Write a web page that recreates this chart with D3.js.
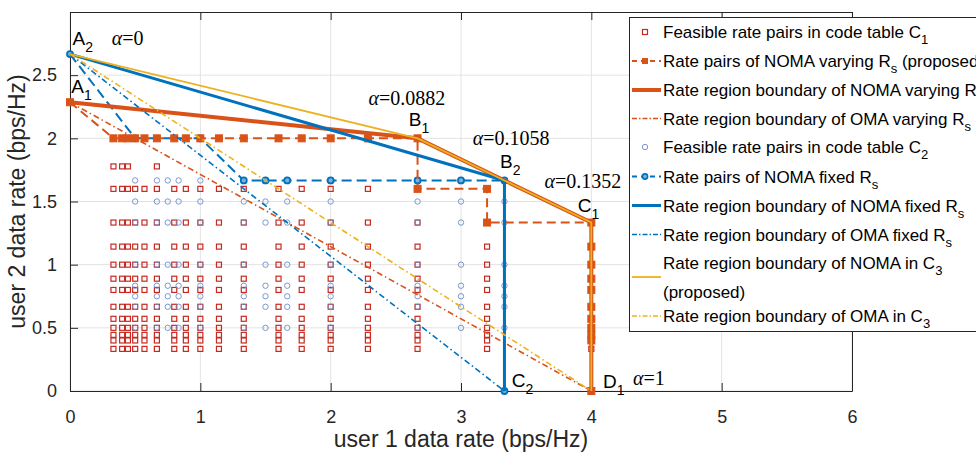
<!DOCTYPE html>
<html>
<head>
<meta charset="utf-8">
<script src="https://cdn.jsdelivr.net/npm/d3@7"></script>
<style>
body{margin:0;background:#fff}
svg{display:block}
text{font-family:"Liberation Sans",Arial,Helvetica,sans-serif}
</style>
</head>
<body>
<svg id="chart" width="976" height="455"></svg>
<script>
// tick labels
var xTicks = [0, 1, 2, 3, 4, 5, 6];
var yTicks = [0, 0.5, 1, 1.5, 2, 2.5];

// code table C1 : feasible rate pairs, row by row (user 2 rate, user 1 rates)
var c1Cols = [1/3, 0.4, 4/9, 0.5, 4/7, 2/3, 0.8, 8/9, 1, 8/7, 4/3, 1.6, 16/9, 2, 16/7, 8/3, 3.2, 4];
var c1Rows = [
  [16/9, [1/3, 0.4, 4/9, 2/3]],
  [1.6,  [1/3, 0.4, 4/9, 0.5, 4/7, 2/3, 0.8, 8/9, 1, 8/7, 4/3, 1.6, 16/9, 2, 16/7, 8/3, 3.2]],
  [4/3,  c1Cols],
  [8/7,  c1Cols],
  [1,    c1Cols],
  [8/9,  c1Cols],
  [0.8,  c1Cols],
  [2/3,  c1Cols],
  [4/7,  c1Cols],
  [0.5,  c1Cols],
  [4/9,  c1Cols],
  [0.4,  c1Cols],
  [1/3,  c1Cols]
];

// code table C2 : feasible rate pairs
var c2Cols = [0.5, 2/3, 0.75, 5/6, 1, 4/3, 1.5, 5/3, 2, 8/3, 3, 10/3];
var c2Rows = [5/3, 1.5, 4/3, 1, 5/6, 0.75, 2/3, 0.5];

// rate pairs of NOMA, varying Rs (proposed)
var nomaVarR1 = [0, 1/3, 0.4, 4/9, 0.5, 4/7, 2/3, 0.8, 8/9, 1, 8/7, 4/3, 1.6, 16/9, 2, 16/7, 8/3, 8/3, 3.2, 3.2, 4, 4, 4, 4, 4, 4, 4, 4, 4, 4, 4];
var nomaVarR2 = [16/7, 2, 2, 2, 2, 2, 2, 2, 2, 2, 2, 2, 2, 2, 2, 2, 2, 1.6, 1.6, 4/3, 4/3, 8/7, 1, 8/9, 0.8, 2/3, 4/7, 0.5, 4/9, 0.4, 0];

// rate pairs of NOMA, fixed Rs
var nomaFixR1 = [0, 0.5, 1, 4/3, 1.5, 5/3, 2, 8/3, 3, 10/3, 10/3];
var nomaFixR2 = [8/3, 2, 2, 5/3, 5/3, 5/3, 5/3, 5/3, 5/3, 5/3, 0];

// rate region boundaries
var bndVarR1 = [0, 8/3, 4, 4],        bndVarR2 = [16/7, 2, 4/3, 0];
var omaVarR1 = [0, 4],                omaVarR2 = [16/7, 0];
var bndFixR1 = [0, 10/3, 10/3],       bndFixR2 = [8/3, 5/3, 0];
var omaFixR1 = [0, 10/3],             omaFixR2 = [8/3, 0];
var bndC3R1  = [0, 8/3, 10/3, 4, 4],  bndC3R2  = [8/3, 2, 5/3, 4/3, 0];
var omaC3R1  = [0, 4],                omaC3R2  = [8/3, 0];

// annotations: text, x, y (data units)
var pointLabels = [
  ["A_2", 0.02, 2.74], ["A_1", 0.01, 2.36], ["B_1", 2.6, 2.1], ["B_2", 3.3, 1.765],
  ["C_1", 3.895, 1.42], ["C_2", 3.39, 0.035], ["D_1", 4.09, 0.02]
];
var alphaLabels = [
  ["0", 0.32, 2.74], ["0.0882", 2.29, 2.26], ["0.1058", 3.09, 1.95], ["0.1352", 3.64, 1.61], ["1", 4.32, 0.05]
];

var legendLabels = [
  "Feasible rate pairs in code table C_1",
  "Rate pairs of NOMA varying R_s (proposed)",
  "Rate region boundary of NOMA varying R_s",
  "Rate region boundary of OMA varying R_s",
  "Feasible rate pairs in code table C_2",
  "Rate pairs of NOMA fixed R_s",
  "Rate region boundary of NOMA fixed R_s",
  "Rate region boundary of OMA fixed R_s",
  "Rate region boundary of NOMA in C_3|(proposed)",
  "Rate region boundary of OMA in C_3"
];

var RED = "#D95319", BLUE = "#0072BD", YEL = "#EDB120", SQ = "#c8281e", CI = "#6a8cca", AX = "#262626";

var svg = d3.select("#chart"),
    W = 976, H = 455,
    margin = {top: 12, right: 124, bottom: 64, left: 70},
    x = d3.scaleLinear().domain([0, 6]).range([margin.left, W - margin.right]),
    y = d3.scaleLinear().domain([0, 3]).range([H - margin.bottom, margin.top]);

function zip(a, b) { return a.map((v, i) => [v, b[i]]); }

// text with _x subscripts
function rich(t, str, subSize, subDy) {
  var parts = str.split(/_(\w)/), down = false;
  parts.forEach(function(p, i) {
    if (i % 2 == 1) {
      t.append("tspan").attr("dy", subDy).attr("font-size", subSize).text(p);
      down = true;
    } else if (p) {
      t.append("tspan").attr("dy", down ? -subDy : 0).text(p);
      down = false;
    }
  });
}

// grid
var grid = svg.append("g").attr("stroke", "#e3e3e3").attr("stroke-width", 1);
grid.selectAll(".gx").data(xTicks).enter().append("line")
  .attr("x1", d => x(d)).attr("x2", d => x(d)).attr("y1", y(0)).attr("y2", y(3));
grid.selectAll(".gy").data(yTicks).enter().append("line")
  .attr("y1", d => y(d)).attr("y2", d => y(d)).attr("x1", x(0)).attr("x2", x(6));

// axes
function styleAxis(g) {
  g.selectAll("path,line").attr("stroke", AX);
  g.selectAll("text").attr("fill", AX).attr("font-size", 18).attr("font-family", '"Liberation Sans",Arial,sans-serif');
}
svg.append("g").attr("transform", `translate(0,${y(0)})`)
  .call(d3.axisBottom(x).tickValues(xTicks).tickSize(-8).tickSizeOuter(0).tickPadding(19).tickFormat(d3.format("d")))
  .call(styleAxis);
svg.append("g").attr("transform", `translate(0,${y(3)})`)
  .call(d3.axisTop(x).tickValues(xTicks).tickSize(-8).tickSizeOuter(0).tickFormat(""))
  .call(styleAxis);
svg.append("g").attr("transform", `translate(${x(0)},0)`)
  .call(d3.axisLeft(y).tickValues(yTicks).tickSize(-8).tickSizeOuter(0).tickPadding(13).tickFormat(d => d === 0 ? "0" : d3.format(".1~f")(d)))
  .call(styleAxis);
svg.append("g").attr("transform", `translate(${x(6)},0)`)
  .call(d3.axisRight(y).tickValues(yTicks.concat([3])).tickSize(-8).tickSizeOuter(0).tickFormat(""))
  .call(styleAxis);

// feasible pairs C1
var c1Pts = [];
c1Rows.forEach(r => r[1].forEach(v => c1Pts.push([v, r[0]])));
svg.append("g").selectAll("rect").data(c1Pts).enter().append("rect")
  .attr("x", d => x(d[0]) - 2.5).attr("y", d => y(d[1]) - 2.5)
  .attr("width", 5).attr("height", 5)
  .attr("fill", "none").attr("stroke", SQ).attr("stroke-width", 1.2);

// feasible pairs C2
var c2Pts = [];
c2Rows.forEach(r => c2Cols.forEach(v => c2Pts.push([v, r])));
svg.append("g").selectAll("circle").data(c2Pts).enter().append("circle")
  .attr("cx", d => x(d[0])).attr("cy", d => y(d[1])).attr("r", 2.7)
  .attr("fill", "none").attr("stroke", CI).attr("stroke-width", 0.9);

var line = d3.line().x(d => x(d[0])).y(d => y(d[1]));

function path(pts, color, w, dash) {
  svg.append("path").datum(pts).attr("d", line)
    .attr("fill", "none").attr("stroke", color).attr("stroke-width", w)
    .attr("stroke-dasharray", dash || null).attr("stroke-linejoin", "round");
}

// NOMA fixed Rs pairs
var fixPts = zip(nomaFixR1, nomaFixR2);
path(fixPts, BLUE, 2, "10,5");
svg.append("g").selectAll("circle").data(fixPts).enter().append("circle")
  .attr("cx", d => x(d[0])).attr("cy", d => y(d[1])).attr("r", 3)
  .attr("fill", "#7fb0dc").attr("stroke", BLUE).attr("stroke-width", 1.8);

// NOMA varying Rs pairs
var varPts = zip(nomaVarR1, nomaVarR2);
path(varPts, RED, 2, "9,5");
svg.append("g").selectAll("rect").data(varPts).enter().append("rect")
  .attr("x", d => x(d[0]) - 3.5).attr("y", d => y(d[1]) - 3.5)
  .attr("width", 7).attr("height", 7)
  .attr("fill", RED).attr("stroke", RED).attr("stroke-width", 1);

// boundaries
path(zip(bndVarR1, bndVarR2), RED, 4);
path(zip(omaVarR1, omaVarR2), RED, 1.6, "6,3,1.5,3");
path(zip(bndFixR1, bndFixR2), BLUE, 3);
path(zip(omaFixR1, omaFixR2), BLUE, 1.6, "6,3,1.5,3");
path(zip(bndC3R1, bndC3R2), YEL, 1.8);
path(zip(omaC3R1, omaC3R2), YEL, 1.6, "6,3,1.5,3");

// axis titles
svg.append("text").attr("x", (x(0) + x(6)) / 2).attr("y", 447)
  .attr("text-anchor", "middle").attr("font-size", 23).attr("fill", AX)
  .text("user 1 data rate (bps/Hz)");
svg.append("text").attr("transform", `translate(25,${(y(0) + y(3)) / 2}) rotate(-90)`)
  .attr("text-anchor", "middle").attr("font-size", 23).attr("fill", AX)
  .text("user 2 data rate (bps/Hz)");

// point labels
pointLabels.forEach(function(p) {
  var t = svg.append("text").attr("x", x(p[1])).attr("y", y(p[2]))
    .attr("font-size", 19).attr("fill", "#000");
  rich(t, p[0], 14, 7);
});
alphaLabels.forEach(function(p) {
  var t = svg.append("text").attr("x", x(p[1])).attr("y", y(p[2]))
    .attr("font-size", 20).attr("fill", "#000")
    .style("font-family", '"Liberation Serif","Times New Roman",serif');
  t.append("tspan").attr("font-style", "italic").text("α");
  t.append("tspan").text("=" + p[0]);
});

// legend
var lg = svg.append("g");
lg.append("rect").attr("x", 629.5).attr("y", 17.5).attr("width", 400).attr("height", 314)
  .attr("fill", "#fff").attr("stroke", AX).attr("stroke-width", 1);
var rowY = [32, 61, 90, 118.5, 147, 176.5, 205.5, 234.5, 277, 316];
legendLabels.forEach(function(lbl, i) {
  var lines = lbl.split("|"), cy = rowY[i];
  var top = lines.length > 1 ? cy - 14 : cy;
  lines.forEach(function(s, k) {
    var t = lg.append("text").attr("x", 663).attr("y", top + k * 29 + 6)
      .attr("font-size", 17).attr("fill", "#000");
    rich(t, s, 13, 6);
  });
  var sample = lg.append("g");
  function seg(color, w, dash) {
    sample.append("line").attr("x1", 632).attr("x2", 661).attr("y1", cy).attr("y2", cy)
      .attr("stroke", color).attr("stroke-width", w).attr("stroke-dasharray", dash || null);
  }
  if (i == 0) sample.append("rect").attr("x", 642.5).attr("y", cy - 2.5).attr("width", 5).attr("height", 5)
      .attr("fill", "none").attr("stroke", SQ).attr("stroke-width", 1.2);
  if (i == 1) { seg(RED, 2, "5,4"); sample.append("rect").attr("x", 642).attr("y", cy - 3).attr("width", 6).attr("height", 6).attr("fill", RED); }
  if (i == 2) seg(RED, 4);
  if (i == 3) seg(RED, 1.6, "5,2,1.5,2");
  if (i == 4) sample.append("circle").attr("cx", 645).attr("cy", cy).attr("r", 2.7)
      .attr("fill", "none").attr("stroke", CI).attr("stroke-width", 0.9);
  if (i == 5) { seg(BLUE, 2, "5,4"); sample.append("circle").attr("cx", 645).attr("cy", cy).attr("r", 2.6).attr("fill", "#7fb0dc").attr("stroke", BLUE).attr("stroke-width", 1.6); }
  if (i == 6) seg(BLUE, 3);
  if (i == 7) seg(BLUE, 1.6, "5,2,1.5,2");
  if (i == 8) seg(YEL, 1.8);
  if (i == 9) seg(YEL, 1.6, "5,2,1.5,2");
});
</script>
</body>
</html>
